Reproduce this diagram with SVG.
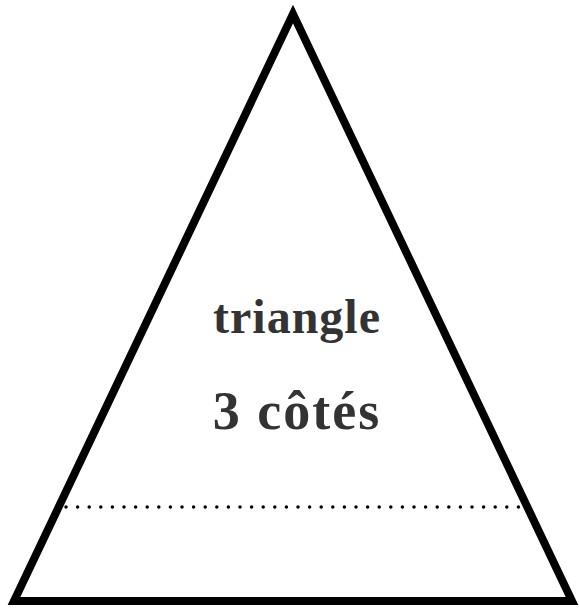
<svg xmlns="http://www.w3.org/2000/svg" width="579" height="609" viewBox="0 0 579 609">
<style>
.tri{fill:#fff;stroke:#000;stroke-width:8;stroke-linejoin:miter;stroke-miterlimit:10}
.dots{stroke:#000;stroke-width:3.5;stroke-linecap:round;stroke-dasharray:0 11.6;fill:none}
.lbl{font-family:"Liberation Serif","DejaVu Serif",serif;font-weight:bold;fill:#333;text-anchor:middle}
</style>
<rect width="579" height="609" fill="#fff"/>
<g id="triangle">
<polygon class="tri" points="293,14 14,601 572,601"/>
</g>
<g id="connectors">
<line class="dots" x1="66" y1="507" x2="524" y2="507"/>
</g>
<g id="labels">
<text class="lbl" x="297" y="333" font-size="48" letter-spacing="1">triangle</text>
<text class="lbl" x="297" y="429" font-size="54" letter-spacing="2">3 côtés</text>
</g>
</svg>
